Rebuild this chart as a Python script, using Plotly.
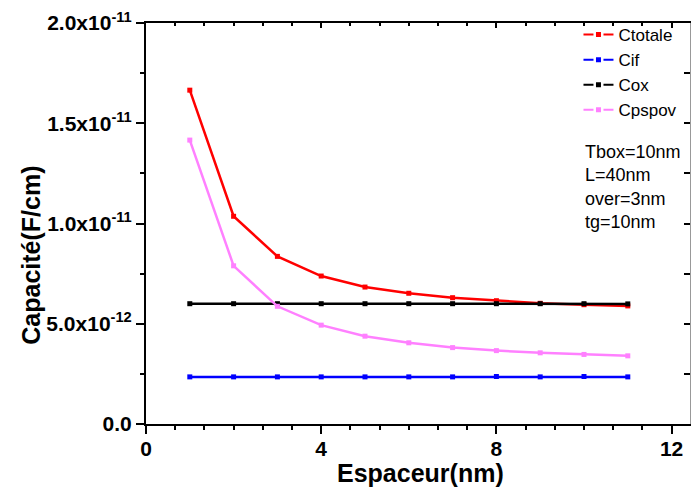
import plotly.graph_objects as go

# ---- data (capacitance in F/cm) ----
espaceur = [1, 2, 3, 4, 5, 6, 7, 8, 9, 10, 11]
ctotale = [16.65e-12, 10.36e-12, 8.36e-12, 7.38e-12, 6.83e-12, 6.52e-12,
           6.30e-12, 6.15e-12, 6.02e-12, 5.95e-12, 5.89e-12]
cif = [2.35e-12, 2.35e-12, 2.35e-12, 2.35e-12, 2.35e-12, 2.35e-12,
       2.35e-12, 2.37e-12, 2.35e-12, 2.37e-12, 2.35e-12]
cox = [6.00e-12, 6.00e-12, 6.00e-12, 6.00e-12, 6.00e-12, 6.00e-12,
       6.00e-12, 6.00e-12, 6.00e-12, 6.00e-12, 5.99e-12]
cpspov = [14.16e-12, 7.89e-12, 5.87e-12, 4.93e-12, 4.38e-12, 4.05e-12,
          3.81e-12, 3.66e-12, 3.55e-12, 3.47e-12, 3.40e-12]

series_names = ["Ctotale", "Cif", "Cox", "Cpspov"]
series_values = [ctotale, cif, cox, cpspov]
series_colors = ["#FF0000", "#0000FF", "#000000", "#FF80FF"]

x_tickvals = [0, 4, 8, 12]
x_ticktext = ["0", "4", "8", "12"]
y_tickvals = [0, 5e-12, 1e-11, 1.5e-11, 2e-11]
y_ticktext = ["0.0", "5.0x10<sup>-12</sup>", "1.0x10<sup>-11</sup>",
              "1.5x10<sup>-11</sup>", "2.0x10<sup>-11</sup>"]

info_text = "Tbox=10nm<br>L=40nm<br>over=3nm<br>tg=10nm"

XR = [0, 12.42]
YR = [0, 2e-11]
FONT = "Arial, Liberation Sans, sans-serif"

fig = go.Figure()

for name, vals, col in zip(series_names, series_values, series_colors):
    fig.add_trace(go.Scatter(
        x=espaceur, y=vals, mode="lines+markers", name=name,
        line=dict(color=col, width=2.5),
        marker=dict(symbol="square", size=5, color=col),
        showlegend=False, hoverinfo="x+y"))

# legend entries (dash-dot style with marker, as in the reference)
for name, col in zip(series_names, series_colors):
    fig.add_trace(go.Scatter(
        x=[None], y=[None], mode="lines+markers", name=name,
        line=dict(color=col, width=2, dash="10px,10px"),
        marker=dict(symbol="square", size=5, color=col)))

# helper trace for the mirrored (top/right) axes
fig.add_trace(go.Scatter(x=[None], y=[None], xaxis="x2", yaxis="y2",
                         showlegend=False, hoverinfo="skip"))

tickfont = dict(family=FONT, size=21, color="black", weight="bold")

fig.update_layout(
    width=691, height=488,
    margin=dict(l=146, r=1, t=23, b=64, autoexpand=False),
    paper_bgcolor="white", plot_bgcolor="white",
    font=dict(family=FONT, color="black"),
    xaxis=dict(range=XR, showgrid=False, zeroline=False, automargin=False,
               showline=True, linecolor="black", linewidth=2,
               ticks="outside", ticklen=8, tickwidth=2, tickcolor="black",
               ticklabelstandoff=-3,
               tickvals=x_tickvals, ticktext=x_ticktext, tickfont=tickfont,
               minor=dict(tick0=0, dtick=2/3, ticks="outside", ticklen=4,
                          tickwidth=2, tickcolor="black", showgrid=False)),
    yaxis=dict(range=YR, showgrid=False, zeroline=False, automargin=False,
               showline=True, linecolor="black", linewidth=2,
               ticks="outside", ticklen=8, tickwidth=2, tickcolor="black",
               tickvals=y_tickvals, ticktext=y_ticktext, tickfont=tickfont,
               minor=dict(tick0=0, dtick=2.5e-12, ticks="outside", ticklen=4,
                          tickwidth=2, tickcolor="black", showgrid=False)),
    xaxis2=dict(range=XR, overlaying="x", side="top", anchor="y2",
                automargin=False,
                showgrid=False, zeroline=False, showticklabels=False,
                showline=True, linecolor="black", linewidth=2,
                ticks="inside", ticklen=5, tickwidth=2, tickcolor="black",
                tickvals=x_tickvals,
                minor=dict(tick0=0, dtick=2/3, ticks="inside", ticklen=3,
                           tickwidth=2, tickcolor="black", showgrid=False)),
    yaxis2=dict(range=YR, overlaying="y", side="right", anchor="x2",
                automargin=False,
                showgrid=False, zeroline=False, showticklabels=False,
                showline=True, linecolor="#999999", linewidth=1,
                ticks="inside", ticklen=6, tickwidth=2, tickcolor="black",
                tickvals=y_tickvals,
                minor=dict(tick0=0, dtick=2.5e-12, ticks="inside", ticklen=6,
                           tickwidth=2, tickcolor="black", showgrid=False)),
    legend=dict(x=0.795, y=1.015, xanchor="left", yanchor="top",
                bgcolor="rgba(0,0,0,0)", borderwidth=0,
                font=dict(family=FONT, size=17, color="black"),
                tracegroupgap=0, itemwidth=30),
    showlegend=True,
)

fig.add_annotation(text=info_text, xref="paper", yref="paper",
                   x=0.803, y=0.708, xanchor="left", yanchor="top",
                   showarrow=False, align="left",
                   font=dict(family=FONT, size=18, color="black"))

fig.add_annotation(text="<b>Espaceur(nm)</b>", xref="paper", yref="paper",
                   x=0.504, y=-0.121, xanchor="center", yanchor="middle",
                   showarrow=False,
                   font=dict(family=FONT, size=25, color="black"))

fig.add_annotation(text="<b>Capacité(F/cm)</b>", xref="paper", yref="paper",
                   x=-0.213, y=0.42, xanchor="center", yanchor="middle",
                   textangle=-90, showarrow=False,
                   font=dict(family=FONT, size=25, color="black"))

fig.write_html(
    "out.html",
    config={"displayModeBar": False},
    post_script="document.body.style.margin='0';document.body.style.padding='0';"
                "document.body.style.overflow='hidden';",
)
